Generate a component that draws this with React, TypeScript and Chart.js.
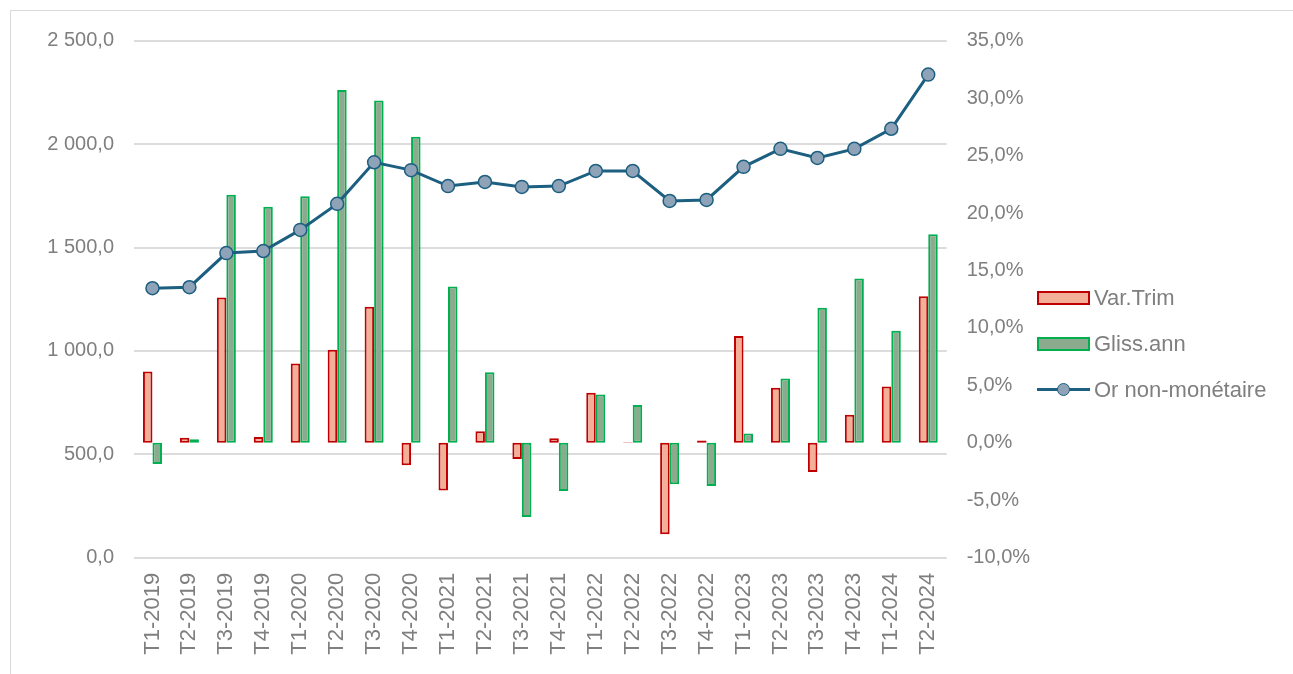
import React, { useEffect, useRef } from "react";
import { Chart, registerables } from "chart.js";

Chart.register(...registerables);

const categories = [
  "T1-2019", "T2-2019", "T3-2019", "T4-2019",
  "T1-2020", "T2-2020", "T3-2020", "T4-2020",
  "T1-2021", "T2-2021", "T3-2021", "T4-2021",
  "T1-2022", "T2-2022", "T3-2022", "T4-2022",
  "T1-2023", "T2-2023", "T3-2023", "T4-2023",
  "T1-2024", "T2-2024",
];

const orValues = [
  1303, 1308, 1473, 1483, 1585, 1711, 1912, 1874, 1797, 1817, 1793, 1797,
  1870, 1870, 1725, 1730, 1890, 1977, 1933, 1977, 2074, 2336,
];

const varTrim = [
  6.2, 0.45, 12.65, 0.5, 6.9, 8.1, 11.85, -1.95, -4.15, 1.0, -1.4, 0.4,
  4.35, 0.05, -7.95, 0.2, 9.3, 4.8, -2.55, 2.45, 4.9, 12.75,
];

const glissAnn = [
  -1.85, 0.3, 21.6, 20.55, 21.45, 30.7, 29.8, 26.65, 13.6, 6.15, -6.45, -4.2,
  4.2, 3.3, -3.6, -3.75, 0.8, 5.6, 11.75, 14.3, 9.75, 18.15,
];

const seriesNames = ["Var.Trim", "Gliss.ann", "Or non-monétaire"];

const FONT = "'Liberation Sans', Arial, sans-serif";
const TEXT = "#7f7f7f";
const RED_BORDER = "#c00000";
const RED_FILL = "#f4af99";
const GREEN_BORDER = "#00b050";
const GREEN_FILL = "#8caa8e";
const LINE = "#1c5f80";
const POINT_FILL = "#8fa3b8";

const fmtLeft = (v: number) => {
  const s = v.toFixed(1);
  const [i, d] = s.split(".");
  return i.replace(/\B(?=(\d{3})+(?!\d))/g, " ") + "," + d;
};
const fmtRight = (v: number) => v.toFixed(1).replace(".", ",") + "%";

function LegendItem({ kind, label, top }: { kind: string; label: string; top: number }) {
  let marker: React.ReactNode;
  if (kind === "line") {
    marker = (
      <div style={{ position: "relative", width: 53, height: 28 }}>
        <div style={{ position: "absolute", left: 0, top: 12.5, width: 53, height: 3, background: LINE }} />
        <div
          style={{
            position: "absolute",
            left: 26.5 - 7,
            top: 14 - 7,
            width: 11,
            height: 11,
            borderRadius: "50%",
            background: POINT_FILL,
            border: `1.5px solid ${LINE}`,
          }}
        />
      </div>
    );
  } else {
    const red = kind === "red";
    marker = (
      <div
        style={{
          width: 49,
          height: 10,
          background: red ? RED_FILL : GREEN_FILL,
          border: `2px solid ${red ? RED_BORDER : GREEN_BORDER}`,
        }}
      />
    );
  }
  return (
    <div
      style={{
        position: "absolute",
        left: 1037,
        top: top - 14,
        height: 28,
        display: "flex",
        alignItems: "center",
        fontFamily: FONT,
        fontSize: 22,
        color: TEXT,
        whiteSpace: "nowrap",
      }}
    >
      {marker}
      <span style={{ marginLeft: 4 }}>{label}</span>
    </div>
  );
}

export default function App() {
  const canvasRef = useRef<HTMLCanvasElement | null>(null);

  useEffect(() => {
    if (!canvasRef.current) return;
    const chart = new Chart(canvasRef.current, {
      type: "bar",
      data: {
        labels: categories,
        datasets: [
          {
            type: "line",
            label: seriesNames[2],
            data: orValues,
            yAxisID: "y",
            borderColor: LINE,
            borderWidth: 3,
            pointRadius: 6.5,
            pointBorderWidth: 1.5,
            pointBackgroundColor: POINT_FILL,
            pointBorderColor: LINE,
            tension: 0,
            order: 0,
          } as any,
          {
            type: "bar",
            label: seriesNames[0],
            data: varTrim,
            yAxisID: "y1",
            backgroundColor: RED_FILL,
            borderColor: RED_BORDER,
            borderWidth: 2,
            borderSkipped: false,
            categoryPercentage: 0.515,
            barPercentage: 1,
            order: 1,
          },
          {
            type: "bar",
            label: seriesNames[1],
            data: glissAnn,
            yAxisID: "y1",
            backgroundColor: GREEN_FILL,
            borderColor: GREEN_BORDER,
            borderWidth: 2,
            borderSkipped: false,
            categoryPercentage: 0.515,
            barPercentage: 1,
            order: 2,
          },
        ],
      },
      options: {
        responsive: false,
        animation: false,
        layout: { padding: { top: 32.7, left: 0, right: 0, bottom: 0 } },
        plugins: {
          legend: { display: false },
          tooltip: { enabled: false },
        },
        scales: {
          x: {
            offset: true,
            grid: { display: false, drawTicks: false },
            border: { display: false },
            ticks: {
              autoSkip: false,
              minRotation: 90,
              maxRotation: 90,
              padding: 15,
              color: TEXT,
              font: { family: FONT, size: 22 },
            },
            afterFit: (s: any) => {
              s.height = 100.3;
            },
          },
          y: {
            position: "left",
            min: 0,
            max: 2500,
            grid: { color: "#dcdcdc", lineWidth: 2, drawTicks: false },
            border: { display: false },
            ticks: {
              stepSize: 500,
              padding: 20,
              color: TEXT,
              font: { family: FONT, size: 20 },
              callback: (v: any) => fmtLeft(Number(v)),
            },
            afterFit: (s: any) => {
              s.width = 126;
            },
          },
          y1: {
            position: "right",
            min: -10,
            max: 35,
            grid: { display: false, drawTicks: false },
            border: { display: false },
            ticks: {
              stepSize: 5,
              padding: 20,
              color: TEXT,
              font: { family: FONT, size: 20 },
              callback: (v: any) => fmtRight(Number(v)),
            },
            afterFit: (s: any) => {
              s.width = 91.3;
            },
          },
        },
      },
    });
    return () => chart.destroy();
  }, []);

  return (
    <div style={{ position: "fixed", left: 0, top: 0, width: 1293, height: 674, overflow: "hidden", background: "#fff" }}>
      <div
        style={{
          position: "absolute",
          left: 10,
          top: 10,
          width: 1500,
          height: 900,
          border: "1px solid #d9d9d9",
        }}
      />
      <canvas
        ref={canvasRef}
        width={1030}
        height={650}
        style={{ position: "absolute", left: 8, top: 8, width: 1030, height: 650 }}
      />
      <LegendItem kind="red" label={seriesNames[0]} top={298} />
      <LegendItem kind="green" label={seriesNames[1]} top={344} />
      <LegendItem kind="line" label={seriesNames[2]} top={389.5} />
    </div>
  );
}
